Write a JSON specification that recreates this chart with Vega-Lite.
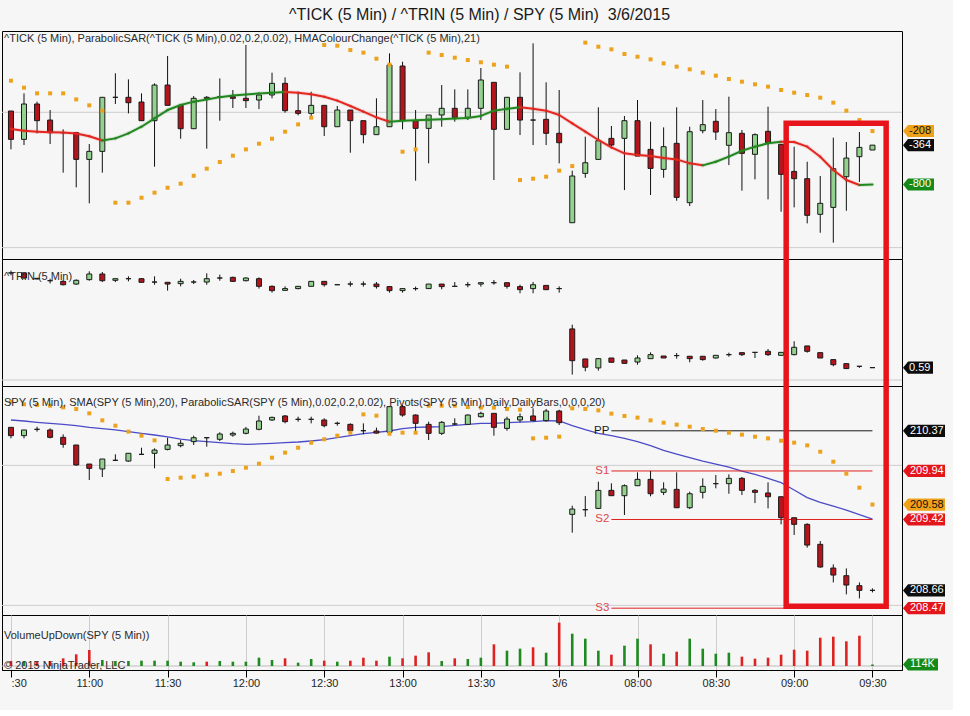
{
"$schema": "https://vega.github.io/schema/vega-lite/v6.json",
"background": "#f6f6f6",
"padding": {"left": 1, "top": 6, "right": 7, "bottom": 21},
"bounds": "flush",
"spacing": 0,
"title": {"text": "^TICK (5 Min) / ^TRIN (5 Min) / SPY (5 Min)\u00a0 3/6/2015", "anchor": "start", "frame": "group", "dx": 287, "fontSize": 16, "fontWeight": "normal", "font": "Liberation Sans", "color": "#1a1a1a", "offset": 8},
"config": {
  "view": {"stroke": "#000000", "strokeWidth": 1, "fill": "#f6f6f6"},
  "axis": {"labelFont": "Liberation Sans", "labelFontSize": 11, "labelColor": "#1e1e1e", "domainColor": "#000000", "tickColor": "#000000", "tickSize": 5, "labelPadding": 3, "gridColor": "#cdcdcd"},
  "text": {"font": "Liberation Sans"},
  "title": {"font": "Liberation Sans"}
},
"datasets": {
"tick": [
{"i":0,"o":14,"h":14,"l":-411,"c":-300,"sar":350,"hma":-185},
{"i":1,"o":-300,"h":210,"l":-363,"c":92,"sar":273,"hma":-205},
{"i":2,"o":92,"h":118,"l":-233,"c":-93,"sar":210,"hma":-215},
{"i":3,"o":-86,"h":25,"l":-352,"c":-226,"sar":210,"hma":-220},
{"i":4,"o":-226,"h":-189,"l":-669,"c":-226,"sar":210,"hma":-225},
{"i":5,"o":-226,"h":-226,"l":-832,"c":-522,"sar":143,"hma":-235},
{"i":6,"o":-522,"h":-352,"l":-1009,"c":-433,"sar":77,"hma":-265},
{"i":7,"o":-433,"h":166,"l":-669,"c":166,"sar":18,"hma":-312},
{"i":8,"o":166,"h":432,"l":92,"c":166,"sar":-1002,"hma":-289},
{"i":9,"o":166,"h":365,"l":-12,"c":106,"sar":-1002,"hma":-233},
{"i":10,"o":114,"h":210,"l":-93,"c":-93,"sar":-947,"hma":-160},
{"i":11,"o":-93,"h":321,"l":-603,"c":302,"sar":-891,"hma":-67},
{"i":12,"o":302,"h":624,"l":77,"c":77,"sar":-836,"hma":25},
{"i":13,"o":77,"h":77,"l":-293,"c":-182,"sar":-791,"hma":81},
{"i":14,"o":-182,"h":180,"l":-182,"c":155,"sar":-703,"hma":118},
{"i":15,"o":155,"h":180,"l":-403,"c":166,"sar":-625,"hma":143},
{"i":16,"o":166,"h":376,"l":-93,"c":173,"sar":-551,"hma":168},
{"i":17,"o":173,"h":247,"l":47,"c":155,"sar":-481,"hma":185},
{"i":18,"o":155,"h":746,"l":47,"c":129,"sar":-411,"hma":198},
{"i":19,"o":136,"h":192,"l":36,"c":192,"sar":-348,"hma":208},
{"i":20,"o":192,"h":439,"l":155,"c":321,"sar":-293,"hma":217},
{"i":21,"o":321,"h":387,"l":-4,"c":18,"sar":-215,"hma":225},
{"i":22,"o":18,"h":228,"l":-34,"c":-12,"sar":-134,"hma":217},
{"i":23,"o":-12,"h":228,"l":-41,"c":77,"sar":-60,"hma":199},
{"i":24,"o":77,"h":77,"l":-263,"c":-160,"sar":746,"hma":173},
{"i":25,"o":-160,"h":70,"l":-160,"c":25,"sar":738,"hma":129},
{"i":26,"o":25,"h":25,"l":-448,"c":-93,"sar":690,"hma":70},
{"i":27,"o":-93,"h":-93,"l":-344,"c":-248,"sar":661,"hma":7},
{"i":28,"o":-248,"h":155,"l":-248,"c":-160,"sar":594,"hma":-56},
{"i":29,"o":-160,"h":653,"l":-160,"c":524,"sar":528,"hma":-104},
{"i":30,"o":513,"h":561,"l":-189,"c":-93,"sar":-437,"hma":-95},
{"i":31,"o":-93,"h":25,"l":-758,"c":-178,"sar":-411,"hma":-88},
{"i":32,"o":-178,"h":-30,"l":-566,"c":-30,"sar":661,"hma":-82},
{"i":33,"o":-30,"h":302,"l":-160,"c":44,"sar":635,"hma":-76},
{"i":34,"o":44,"h":254,"l":-104,"c":-56,"sar":605,"hma":-70},
{"i":35,"o":-56,"h":254,"l":-86,"c":44,"sar":579,"hma":-62},
{"i":36,"o":44,"h":491,"l":-85,"c":358,"sar":554,"hma":-40},
{"i":37,"o":332,"h":332,"l":-751,"c":-189,"sar":528,"hma":18},
{"i":38,"o":-189,"h":166,"l":-189,"c":166,"sar":506,"hma":38},
{"i":39,"o":166,"h":443,"l":-252,"c":-86,"sar":-751,"hma":55},
{"i":40,"o":-86,"h":764,"l":-363,"c":-86,"sar":-736,"hma":40},
{"i":41,"o":-78,"h":332,"l":-363,"c":-233,"sar":-714,"hma":18},
{"i":42,"o":-233,"h":247,"l":-566,"c":-337,"sar":-647,"hma":-30},
{"i":43,"o":-1224,"h":-647,"l":-1224,"c":-706,"sar":-596,"hma":-123},
{"i":44,"o":-677,"h":-270,"l":-725,"c":-559,"sar":772,"hma":-215},
{"i":45,"o":-522,"h":55,"l":-522,"c":-315,"sar":727,"hma":-307},
{"i":46,"o":-289,"h":-152,"l":-400,"c":-363,"sar":698,"hma":-389},
{"i":47,"o":-289,"h":-41,"l":-862,"c":-93,"sar":646,"hma":-455},
{"i":48,"o":-93,"h":136,"l":-485,"c":-485,"sar":616,"hma":-474},
{"i":49,"o":-411,"h":-104,"l":-917,"c":-622,"sar":587,"hma":-485},
{"i":50,"o":-633,"h":-167,"l":-725,"c":-381,"sar":542,"hma":-507},
{"i":51,"o":-344,"h":55,"l":-980,"c":-943,"sar":506,"hma":-522},
{"i":52,"o":-1002,"h":-160,"l":-1039,"c":-215,"sar":476,"hma":-566},
{"i":53,"o":-204,"h":136,"l":-233,"c":-137,"sar":439,"hma":-588},
{"i":54,"o":-100,"h":36,"l":-307,"c":-219,"sar":406,"hma":-548},
{"i":55,"o":-366,"h":173,"l":-585,"c":-226,"sar":369,"hma":-492},
{"i":56,"o":-233,"h":-196,"l":-869,"c":-455,"sar":339,"hma":-426},
{"i":57,"o":-466,"h":-233,"l":-743,"c":-248,"sar":310,"hma":-381},
{"i":58,"o":-211,"h":62,"l":-965,"c":-337,"sar":284,"hma":-344},
{"i":59,"o":-355,"h":-355,"l":-1102,"c":-688,"sar":247,"hma":-326},
{"i":60,"o":-655,"h":-381,"l":-1054,"c":-736,"sar":217,"hma":-330},
{"i":61,"o":-736,"h":-548,"l":-1231,"c":-1142,"sar":191,"hma":-381},
{"i":62,"o":-1131,"h":-706,"l":-1335,"c":-1009,"sar":162,"hma":-492},
{"i":63,"o":-1054,"h":-281,"l":-1445,"c":-625,"sar":107,"hma":-640},
{"i":64,"o":-714,"h":-329,"l":-1091,"c":-507,"sar":18,"hma":-751},
{"i":65,"o":-492,"h":-219,"l":-773,"c":-389,"sar":-86,"hma":-806},
{"i":66,"o":-418,"h":-364,"l":-418,"c":-364,"sar":-208,"hma":-800}
],
"trin": [
{"i":0,"o":1.299,"h":1.316,"l":1.281,"c":1.299},
{"i":1,"o":1.299,"h":1.306,"l":1.256,"c":1.261},
{"i":2,"o":1.259,"h":1.261,"l":1.251,"c":1.254},
{"i":3,"o":1.241,"h":1.256,"l":1.221,"c":1.241},
{"i":4,"o":1.236,"h":1.246,"l":1.206,"c":1.211},
{"i":5,"o":1.216,"h":1.251,"l":1.211,"c":1.244},
{"i":6,"o":1.249,"h":1.311,"l":1.241,"c":1.291},
{"i":7,"o":1.291,"h":1.306,"l":1.231,"c":1.241},
{"i":8,"o":1.244,"h":1.256,"l":1.231,"c":1.256},
{"i":9,"o":1.256,"h":1.274,"l":1.236,"c":1.256},
{"i":10,"o":1.256,"h":1.259,"l":1.226,"c":1.229},
{"i":11,"o":1.231,"h":1.274,"l":1.211,"c":1.231},
{"i":12,"o":1.229,"h":1.229,"l":1.167,"c":1.216},
{"i":13,"o":1.219,"h":1.256,"l":1.199,"c":1.236},
{"i":14,"o":1.231,"h":1.246,"l":1.216,"c":1.231},
{"i":15,"o":1.231,"h":1.296,"l":1.211,"c":1.256},
{"i":16,"o":1.261,"h":1.286,"l":1.241,"c":1.261},
{"i":17,"o":1.266,"h":1.271,"l":1.231,"c":1.236},
{"i":18,"o":1.241,"h":1.266,"l":1.236,"c":1.261},
{"i":19,"o":1.256,"h":1.266,"l":1.182,"c":1.199},
{"i":20,"o":1.199,"h":1.206,"l":1.152,"c":1.167},
{"i":21,"o":1.169,"h":1.199,"l":1.169,"c":1.182},
{"i":22,"o":1.182,"h":1.199,"l":1.177,"c":1.199},
{"i":23,"o":1.199,"h":1.236,"l":1.199,"c":1.236},
{"i":24,"o":1.236,"h":1.236,"l":1.197,"c":1.211},
{"i":25,"o":1.211,"h":1.211,"l":1.211,"c":1.211},
{"i":26,"o":1.216,"h":1.236,"l":1.197,"c":1.216},
{"i":27,"o":1.216,"h":1.236,"l":1.197,"c":1.216},
{"i":28,"o":1.216,"h":1.231,"l":1.182,"c":1.197},
{"i":29,"o":1.197,"h":1.197,"l":1.152,"c":1.167},
{"i":30,"o":1.167,"h":1.182,"l":1.152,"c":1.182},
{"i":31,"o":1.182,"h":1.197,"l":1.167,"c":1.182},
{"i":32,"o":1.182,"h":1.216,"l":1.182,"c":1.216},
{"i":33,"o":1.216,"h":1.216,"l":1.177,"c":1.197},
{"i":34,"o":1.199,"h":1.231,"l":1.199,"c":1.199},
{"i":35,"o":1.211,"h":1.231,"l":1.192,"c":1.211},
{"i":36,"o":1.216,"h":1.231,"l":1.197,"c":1.226},
{"i":37,"o":1.226,"h":1.246,"l":1.211,"c":1.226},
{"i":38,"o":1.226,"h":1.226,"l":1.182,"c":1.199},
{"i":39,"o":1.197,"h":1.211,"l":1.147,"c":1.174},
{"i":40,"o":1.182,"h":1.231,"l":1.147,"c":1.211},
{"i":41,"o":1.206,"h":1.206,"l":1.174,"c":1.174},
{"i":42,"o":1.182,"h":1.199,"l":1.152,"c":1.182},
{"i":43,"o":0.881,"h":0.913,"l":0.540,"c":0.644},
{"i":44,"o":0.657,"h":0.657,"l":0.565,"c":0.595},
{"i":45,"o":0.590,"h":0.664,"l":0.570,"c":0.659},
{"i":46,"o":0.664,"h":0.664,"l":0.632,"c":0.632},
{"i":47,"o":0.649,"h":0.649,"l":0.624,"c":0.624},
{"i":48,"o":0.634,"h":0.684,"l":0.614,"c":0.664},
{"i":49,"o":0.659,"h":0.706,"l":0.659,"c":0.689},
{"i":50,"o":0.679,"h":0.679,"l":0.664,"c":0.664},
{"i":51,"o":0.682,"h":0.701,"l":0.659,"c":0.682},
{"i":52,"o":0.677,"h":0.677,"l":0.632,"c":0.659},
{"i":53,"o":0.677,"h":0.677,"l":0.644,"c":0.652},
{"i":54,"o":0.664,"h":0.684,"l":0.659,"c":0.684},
{"i":55,"o":0.689,"h":0.704,"l":0.674,"c":0.689},
{"i":56,"o":0.704,"h":0.704,"l":0.679,"c":0.689},
{"i":57,"o":0.706,"h":0.706,"l":0.664,"c":0.706},
{"i":58,"o":0.714,"h":0.731,"l":0.679,"c":0.689},
{"i":59,"o":0.684,"h":0.706,"l":0.684,"c":0.706},
{"i":60,"o":0.689,"h":0.789,"l":0.684,"c":0.744},
{"i":61,"o":0.754,"h":0.754,"l":0.704,"c":0.714},
{"i":62,"o":0.704,"h":0.704,"l":0.664,"c":0.664},
{"i":63,"o":0.652,"h":0.652,"l":0.602,"c":0.614},
{"i":64,"o":0.622,"h":0.622,"l":0.585,"c":0.585},
{"i":65,"o":0.602,"h":0.602,"l":0.590,"c":0.602},
{"i":66,"o":0.592,"h":0.592,"l":0.592,"c":0.592}
],
"spy": [
{"i":0,"o":210.407,"h":210.407,"l":210.289,"c":210.318,"sar":210.682,"sma":210.486},
{"i":1,"o":210.318,"h":210.379,"l":210.289,"c":210.379,"sar":210.654,"sma":210.475},
{"i":2,"o":210.386,"h":210.414,"l":210.361,"c":210.386,"sar":210.646,"sma":210.461},
{"i":3,"o":210.379,"h":210.396,"l":210.289,"c":210.300,"sar":210.639,"sma":210.45},
{"i":4,"o":210.300,"h":210.332,"l":210.189,"c":210.225,"sar":210.621,"sma":210.439},
{"i":5,"o":210.218,"h":210.218,"l":209.996,"c":210.004,"sar":210.604,"sma":210.425},
{"i":6,"o":210.014,"h":210.014,"l":209.843,"c":209.968,"sar":210.557,"sma":210.407},
{"i":7,"o":209.961,"h":210.068,"l":209.875,"c":210.068,"sar":210.482,"sma":210.393},
{"i":8,"o":210.054,"h":210.118,"l":210.046,"c":210.054,"sar":210.425,"sma":210.379},
{"i":9,"o":210.046,"h":210.129,"l":210.039,"c":210.129,"sar":210.361,"sma":210.361},
{"i":10,"o":210.118,"h":210.189,"l":210.111,"c":210.118,"sar":210.318,"sma":210.343},
{"i":11,"o":210.129,"h":210.182,"l":209.968,"c":210.164,"sar":210.268,"sma":210.325},
{"i":12,"o":210.171,"h":210.296,"l":210.161,"c":210.218,"sar":209.854,"sma":210.304},
{"i":13,"o":210.211,"h":210.271,"l":210.193,"c":210.236,"sar":209.868,"sma":210.282},
{"i":14,"o":210.254,"h":210.318,"l":210.218,"c":210.296,"sar":209.879,"sma":210.264},
{"i":15,"o":210.296,"h":210.296,"l":210.2,"c":210.296,"sar":209.9,"sma":210.254},
{"i":16,"o":210.279,"h":210.354,"l":210.261,"c":210.336,"sar":209.911,"sma":210.243},
{"i":17,"o":210.325,"h":210.361,"l":210.307,"c":210.343,"sar":209.939,"sma":210.232},
{"i":18,"o":210.343,"h":210.411,"l":210.332,"c":210.389,"sar":209.975,"sma":210.225},
{"i":19,"o":210.386,"h":210.532,"l":210.375,"c":210.475,"sar":210.018,"sma":210.229},
{"i":20,"o":210.486,"h":210.521,"l":210.475,"c":210.514,"sar":210.082,"sma":210.236},
{"i":21,"o":210.529,"h":210.539,"l":210.45,"c":210.468,"sar":210.136,"sma":210.243},
{"i":22,"o":210.493,"h":210.521,"l":210.468,"c":210.493,"sar":210.189,"sma":210.25},
{"i":23,"o":210.493,"h":210.521,"l":210.45,"c":210.493,"sar":210.243,"sma":210.261},
{"i":24,"o":210.486,"h":210.504,"l":210.407,"c":210.425,"sar":210.279,"sma":210.275},
{"i":25,"o":210.45,"h":210.468,"l":210.425,"c":210.45,"sar":210.318,"sma":210.296},
{"i":26,"o":210.439,"h":210.45,"l":210.361,"c":210.371,"sar":210.35,"sma":210.318},
{"i":27,"o":210.371,"h":210.45,"l":210.332,"c":210.371,"sar":210.546,"sma":210.339},
{"i":28,"o":210.368,"h":210.404,"l":210.339,"c":210.346,"sar":210.532,"sma":210.354},
{"i":29,"o":210.354,"h":210.629,"l":210.343,"c":210.629,"sar":210.339,"sma":210.368},
{"i":30,"o":210.629,"h":210.646,"l":210.521,"c":210.539,"sar":210.35,"sma":210.393},
{"i":31,"o":210.539,"h":210.546,"l":210.361,"c":210.45,"sar":210.35,"sma":210.407},
{"i":32,"o":210.439,"h":210.468,"l":210.271,"c":210.343,"sar":210.639,"sma":210.411},
{"i":33,"o":210.343,"h":210.475,"l":210.325,"c":210.461,"sar":210.639,"sma":210.414},
{"i":34,"o":210.443,"h":210.504,"l":210.432,"c":210.443,"sar":210.639,"sma":210.429},
{"i":35,"o":210.439,"h":210.546,"l":210.432,"c":210.539,"sar":210.625,"sma":210.439},
{"i":36,"o":210.521,"h":210.575,"l":210.511,"c":210.557,"sar":210.618,"sma":210.45},
{"i":37,"o":210.557,"h":210.557,"l":210.318,"c":210.407,"sar":210.618,"sma":210.45},
{"i":38,"o":210.396,"h":210.521,"l":210.371,"c":210.496,"sar":210.604,"sma":210.457},
{"i":39,"o":210.486,"h":210.557,"l":210.461,"c":210.521,"sar":210.596,"sma":210.464},
{"i":40,"o":210.529,"h":210.611,"l":210.475,"c":210.479,"sar":210.289,"sma":210.468},
{"i":41,"o":210.479,"h":210.604,"l":210.468,"c":210.582,"sar":210.296,"sma":210.479},
{"i":42,"o":210.582,"h":210.596,"l":210.432,"c":210.457,"sar":210.307,"sma":210.475},
{"i":43,"o":209.475,"h":209.568,"l":209.279,"c":209.532,"sar":210.611,"sma":210.425},
{"i":44,"o":209.525,"h":209.671,"l":209.45,"c":209.525,"sar":210.604,"sma":210.382},
{"i":45,"o":209.539,"h":209.825,"l":209.532,"c":209.732,"sar":210.589,"sma":210.343},
{"i":46,"o":209.732,"h":209.807,"l":209.675,"c":209.675,"sar":210.554,"sma":210.318},
{"i":47,"o":209.675,"h":209.796,"l":209.468,"c":209.782,"sar":210.529,"sma":210.289},
{"i":48,"o":209.782,"h":209.925,"l":209.782,"c":209.85,"sar":210.511,"sma":210.254},
{"i":49,"o":209.85,"h":209.939,"l":209.668,"c":209.696,"sar":210.482,"sma":210.211},
{"i":50,"o":209.711,"h":209.818,"l":209.682,"c":209.746,"sar":210.457,"sma":210.161},
{"i":51,"o":209.743,"h":209.925,"l":209.546,"c":209.546,"sar":210.436,"sma":210.121},
{"i":52,"o":209.546,"h":209.718,"l":209.532,"c":209.696,"sar":210.414,"sma":210.082},
{"i":53,"o":209.711,"h":209.861,"l":209.646,"c":209.775,"sar":210.389,"sma":210.046},
{"i":54,"o":209.804,"h":209.896,"l":209.754,"c":209.804,"sar":210.371,"sma":210.014},
{"i":55,"o":209.804,"h":209.904,"l":209.696,"c":209.861,"sar":210.35,"sma":209.982},
{"i":56,"o":209.861,"h":209.875,"l":209.682,"c":209.732,"sar":210.329,"sma":209.939},
{"i":57,"o":209.732,"h":209.746,"l":209.596,"c":209.711,"sar":210.307,"sma":209.904},
{"i":58,"o":209.704,"h":209.818,"l":209.539,"c":209.664,"sar":210.289,"sma":209.861},
{"i":59,"o":209.664,"h":209.664,"l":209.368,"c":209.439,"sar":210.264,"sma":209.814},
{"i":60,"o":209.439,"h":209.439,"l":209.254,"c":209.368,"sar":210.243,"sma":209.736},
{"i":61,"o":209.368,"h":209.379,"l":209.118,"c":209.146,"sar":210.214,"sma":209.654},
{"i":62,"o":209.154,"h":209.189,"l":208.904,"c":208.911,"sar":210.146,"sma":209.604},
{"i":63,"o":208.9,"h":208.939,"l":208.746,"c":208.825,"sar":210.039,"sma":209.564},
{"i":64,"o":208.818,"h":208.896,"l":208.618,"c":208.718,"sar":209.911,"sma":209.521},
{"i":65,"o":208.711,"h":208.746,"l":208.575,"c":208.661,"sar":209.761,"sma":209.471},
{"i":66,"o":208.661,"h":208.682,"l":208.639,"c":208.661,"sar":209.58,"sma":209.425}
],
"vol": [
{"i":0,"v":375,"d":"dn"},{"i":1,"v":325,"d":"up"},{"i":2,"v":325,"d":"dn"},{"i":3,"v":375,"d":"dn"},{"i":4,"v":575,"d":"dn"},
{"i":5,"v":875,"d":"dn"},{"i":6,"v":1200,"d":"dn"},{"i":7,"v":450,"d":"up"},{"i":8,"v":375,"d":"up"},{"i":9,"v":375,"d":"up"},
{"i":10,"v":400,"d":"up"},{"i":11,"v":400,"d":"up"},{"i":12,"v":400,"d":"up"},{"i":13,"v":325,"d":"up"},{"i":14,"v":275,"d":"up"},
{"i":15,"v":325,"d":"dn"},{"i":16,"v":375,"d":"up"},{"i":17,"v":325,"d":"up"},{"i":18,"v":325,"d":"up"},{"i":19,"v":625,"d":"up"},
{"i":20,"v":450,"d":"up"},{"i":21,"v":575,"d":"dn"},{"i":22,"v":250,"d":"up"},{"i":23,"v":525,"d":"up"},{"i":24,"v":400,"d":"dn"},
{"i":25,"v":325,"d":"up"},{"i":26,"v":400,"d":"dn"},{"i":27,"v":625,"d":"dn"},{"i":28,"v":400,"d":"dn"},{"i":29,"v":700,"d":"up"},
{"i":30,"v":575,"d":"dn"},{"i":31,"v":775,"d":"dn"},{"i":32,"v":1025,"d":"dn"},{"i":33,"v":375,"d":"up"},{"i":34,"v":575,"d":"dn"},
{"i":35,"v":525,"d":"up"},{"i":36,"v":625,"d":"up"},{"i":37,"v":1625,"d":"dn"},{"i":38,"v":1150,"d":"up"},{"i":39,"v":1300,"d":"up"},
{"i":40,"v":1400,"d":"dn"},{"i":41,"v":1000,"d":"up"},{"i":42,"v":3250,"d":"dn"},{"i":43,"v":2425,"d":"up"},{"i":44,"v":2050,"d":"up"},
{"i":45,"v":1150,"d":"up"},{"i":46,"v":850,"d":"dn"},{"i":47,"v":1525,"d":"up"},{"i":48,"v":2050,"d":"up"},{"i":49,"v":1625,"d":"dn"},
{"i":50,"v":925,"d":"up"},{"i":51,"v":1075,"d":"dn"},{"i":52,"v":2050,"d":"up"},{"i":53,"v":1300,"d":"up"},{"i":54,"v":925,"d":"up"},
{"i":55,"v":1000,"d":"up"},{"i":56,"v":700,"d":"dn"},{"i":57,"v":550,"d":"dn"},{"i":58,"v":625,"d":"dn"},{"i":59,"v":850,"d":"dn"},
{"i":60,"v":1225,"d":"dn"},{"i":61,"v":1150,"d":"dn"},{"i":62,"v":2125,"d":"dn"},{"i":63,"v":2200,"d":"dn"},{"i":64,"v":1850,"d":"dn"},
{"i":65,"v":2275,"d":"dn"},{"i":66,"v":114,"d":"up"}
],
"pivots": [
{"name":"PP","v":210.37},{"name":"S1","v":209.94},{"name":"S2","v":209.42},{"name":"S3","v":208.47}
],
"tagsT": [
{"v":-208,"label":"-208","kind":"sar"},{"v":-364,"label":"-364","kind":"last"},{"v":-800,"label":"-800","kind":"hma"}
],
"tagsR": [
{"v":0.592,"label":"0.59","kind":"last"}
],
"tagsS": [
{"v":210.37,"label":"210.37","kind":"pivot"},{"v":209.94,"label":"209.94","kind":"support"},{"v":209.58,"label":"209.58","kind":"sar"},
{"v":209.42,"label":"209.42","kind":"support"},{"v":208.66,"label":"208.66","kind":"last"},{"v":208.47,"label":"208.47","kind":"support"}
],
"tagsV": [
{"v":114,"label":"114K","kind":"hma"}
]
},
"vconcat": [
{
"width": 900, "height": 228,
"title": {"text": "^TICK (5 Min), ParabolicSAR(^TICK (5 Min),0.02,0.2,0.02), HMAColourChange(^TICK (5 Min),21)", "anchor": "start", "frame": "group", "offset": -13, "dx": 2, "fontSize": 11, "fontWeight": "normal", "color": "#2a2a2a"},
"layer": [
{"data": {"values": [{"g": 0}, {"g": -1500}]}, "mark": {"type": "rule", "color": "#cdcdcd", "strokeWidth": 1},
 "encoding": {"y": {"field": "g", "type": "quantitative", "scale": {"domain": [-1626, 901], "nice": false, "zero": false}, "axis": {"orient": "right", "values": [500, 0, -500, -1000, -1500], "format": "d", "title": null, "grid": false, "minExtent": 62, "maxExtent": 62}}}},
{"data": {"name": "tick"}, "mark": {"type": "rule", "color": "#111111", "strokeWidth": 1},
 "encoding": {"x": {"field": "i", "type": "quantitative", "scale": {"domain": [-0.303, 67.88], "nice": false, "zero": false}, "axis": {"values": [0,6,12,18,24,30,36,42,48,54,60,66], "grid": true, "labels": false, "ticks": false, "domain": false, "title": null}},
  "y": {"field": "l", "type": "quantitative", "scale": {"domain": [-1626, 901], "nice": false, "zero": false}, "axis": null}, "y2": {"field": "h"}}},
{"data": {"name": "tick"}, "mark": {"type": "bar", "width": 5, "stroke": "#1a1a1a", "strokeWidth": 1},
 "encoding": {"x": {"field": "i", "type": "quantitative", "scale": {"domain": [-0.303, 67.88], "nice": false, "zero": false}, "axis": null},
  "y": {"field": "o", "type": "quantitative", "scale": {"domain": [-1626, 901], "nice": false, "zero": false}, "axis": null}, "y2": {"field": "c"},
  "fill": {"condition": {"test": "datum.c >= datum.o", "value": "#93d18f"}, "value": "#b5141c"}}},
{"data": {"name": "tick"}, "mark": {"type": "square", "size": 16, "color": "#eda21e", "opacity": 1},
 "encoding": {"x": {"field": "i", "type": "quantitative", "scale": {"domain": [-0.303, 67.88], "nice": false, "zero": false}, "axis": null},
  "y": {"field": "sar", "type": "quantitative", "scale": {"domain": [-1626, 901], "nice": false, "zero": false}, "axis": null}}},
{"data": {"name": "tick"},
 "transform": [{"window": [{"op": "lead", "field": "hma", "as": "hn"}, {"op": "lead", "field": "i", "as": "inext"}], "sort": [{"field": "i", "order": "ascending"}]}, {"filter": "isValid(datum.hn)"}],
 "mark": {"type": "rule", "strokeWidth": 4, "opacity": 0.13, "strokeCap": "round"},
 "encoding": {"x": {"field": "i", "type": "quantitative", "scale": {"domain": [-0.303, 67.88], "nice": false, "zero": false}, "axis": null}, "x2": {"field": "inext"},
  "y": {"field": "hma", "type": "quantitative", "scale": {"domain": [-1626, 901], "nice": false, "zero": false}, "axis": null}, "y2": {"field": "hn"},
  "color": {"condition": {"test": "datum.hn < datum.hma", "value": "#e3261f"}, "value": "#22871f"}}},
{"data": {"name": "tick"},
 "transform": [{"window": [{"op": "lead", "field": "hma", "as": "hn"}, {"op": "lead", "field": "i", "as": "inext"}], "sort": [{"field": "i", "order": "ascending"}]}, {"filter": "isValid(datum.hn)"}],
 "mark": {"type": "rule", "strokeWidth": 2, "strokeCap": "round"},
 "encoding": {"x": {"field": "i", "type": "quantitative", "scale": {"domain": [-0.303, 67.88], "nice": false, "zero": false}, "axis": null}, "x2": {"field": "inext"},
  "y": {"field": "hma", "type": "quantitative", "scale": {"domain": [-1626, 901], "nice": false, "zero": false}, "axis": null}, "y2": {"field": "hn"},
  "color": {"condition": {"test": "datum.hn < datum.hma", "value": "#e3261f"}, "value": "#22871f"}}},
{"data": {"values": [{}]}, "mark": {"type": "rect", "filled": false, "color": "#e8141c", "strokeWidth": 5.5, "clip": true},
 "encoding": {"x": {"datum": 59.39, "type": "quantitative", "scale": {"domain": [-0.303, 67.88], "nice": false, "zero": false}, "axis": null}, "x2": {"datum": 67.05},
  "y": {"datum": -122, "type": "quantitative", "scale": {"domain": [-1626, 901], "nice": false, "zero": false}, "axis": null}, "y2": {"datum": -1900}}},
{"data": {"name": "tagsT"}, "mark": {"type": "point", "shape": "M-1,0L-0.68,-0.39L1,-0.39L1,0.39L-0.68,0.39Z", "size": 961, "filled": true, "opacity": 1, "strokeWidth": 0, "x": "width", "xOffset": 16.5},
 "encoding": {"y": {"field": "v", "type": "quantitative", "scale": {"domain": [-1626, 901], "nice": false, "zero": false}, "axis": null},
  "fill": {"field": "kind", "type": "nominal", "scale": {"domain": ["last","sar","hma","pivot","support"], "range": ["#0d0d0d","#f0a11a","#168a16","#0d0d0d","#e3161b"]}, "legend": null}}},
{"data": {"name": "tagsT"}, "mark": {"type": "text", "x": "width", "dx": 7, "align": "left", "baseline": "middle", "fontSize": 11},
 "encoding": {"y": {"field": "v", "type": "quantitative", "scale": {"domain": [-1626, 901], "nice": false, "zero": false}, "axis": null},
  "text": {"field": "label"}, "color": {"condition": {"test": "datum.kind === 'sar'", "value": "#111111"}, "value": "#ffffff"}}}
]
},
{
"width": 900, "height": 127,
"title": {"text": "^TRIN (5 Min)", "anchor": "start", "frame": "group", "offset": -23, "dx": 2, "fontSize": 11, "fontWeight": "normal", "color": "#2a2a2a"},
"layer": [
{"data": {"values": [{"g": 0.5}]}, "mark": {"type": "rule", "color": "#cdcdcd", "strokeWidth": 1},
 "encoding": {"y": {"field": "g", "type": "quantitative", "scale": {"domain": [0.455, 1.403], "nice": false, "zero": false}, "axis": {"orient": "right", "values": [1.0, 0.5], "format": ".2f", "title": null, "grid": false, "minExtent": 62, "maxExtent": 62}}}},
{"data": {"name": "trin"}, "mark": {"type": "rule", "color": "#111111", "strokeWidth": 1},
 "encoding": {"x": {"field": "i", "type": "quantitative", "scale": {"domain": [-0.303, 67.88], "nice": false, "zero": false}, "axis": {"values": [0,6,12,18,24,30,36,42,48,54,60,66], "grid": true, "labels": false, "ticks": false, "domain": false, "title": null}},
  "y": {"field": "l", "type": "quantitative", "scale": {"domain": [0.455, 1.403], "nice": false, "zero": false}, "axis": null}, "y2": {"field": "h"}}},
{"data": {"name": "trin"}, "mark": {"type": "bar", "width": 5, "stroke": "#1a1a1a", "strokeWidth": 1},
 "encoding": {"x": {"field": "i", "type": "quantitative", "scale": {"domain": [-0.303, 67.88], "nice": false, "zero": false}, "axis": null},
  "y": {"field": "o", "type": "quantitative", "scale": {"domain": [0.455, 1.403], "nice": false, "zero": false}, "axis": null}, "y2": {"field": "c"},
  "fill": {"condition": {"test": "datum.c >= datum.o", "value": "#93d18f"}, "value": "#b5141c"}}},
{"data": {"values": [{}]}, "mark": {"type": "rect", "filled": false, "color": "#e8141c", "strokeWidth": 5.5, "clip": true},
 "encoding": {"x": {"datum": 59.39, "type": "quantitative", "scale": {"domain": [-0.303, 67.88], "nice": false, "zero": false}, "axis": null}, "x2": {"datum": 67.05},
  "y": {"datum": 1.8, "type": "quantitative", "scale": {"domain": [0.455, 1.403], "nice": false, "zero": false}, "axis": null}, "y2": {"datum": 0.1}}},
{"data": {"name": "tagsR"}, "mark": {"type": "point", "shape": "M-1,0L-0.66,-0.41L1,-0.41L1,0.41L-0.66,0.41Z", "size": 900, "filled": true, "opacity": 1, "strokeWidth": 0, "x": "width", "xOffset": 16},
 "encoding": {"y": {"field": "v", "type": "quantitative", "scale": {"domain": [0.455, 1.403], "nice": false, "zero": false}, "axis": null},
  "fill": {"field": "kind", "type": "nominal", "scale": {"domain": ["last","sar","hma","pivot","support"], "range": ["#0d0d0d","#f0a11a","#168a16","#0d0d0d","#e3161b"]}, "legend": null}}},
{"data": {"name": "tagsR"}, "mark": {"type": "text", "x": "width", "dx": 7, "align": "left", "baseline": "middle", "fontSize": 11},
 "encoding": {"y": {"field": "v", "type": "quantitative", "scale": {"domain": [0.455, 1.403], "nice": false, "zero": false}, "axis": null},
  "text": {"field": "label"}, "color": {"value": "#ffffff"}}}
]
},
{
"width": 900, "height": 229,
"title": {"text": "SPY (5 Min), SMA(SPY (5 Min),20), ParabolicSAR(SPY (5 Min),0.02,0.2,0.02), Pivots(SPY (5 Min),Daily,DailyBars,0,0,0,20)", "anchor": "start", "frame": "group", "offset": -22, "dx": 2, "fontSize": 11, "fontWeight": "normal", "color": "#2a2a2a"},
"layer": [
{"data": {"values": [{"g": 210.0}, {"g": 208.5}]}, "mark": {"type": "rule", "color": "#cdcdcd", "strokeWidth": 1},
 "encoding": {"y": {"field": "g", "type": "quantitative", "scale": {"domain": [208.397, 210.85], "nice": false, "zero": false}, "axis": {"orient": "right", "values": [210.5, 210.0, 209.5, 209.0], "format": ".2f", "title": null, "grid": false, "minExtent": 62, "maxExtent": 62}}}},
{"data": {"name": "spy"}, "mark": {"type": "line", "color": "#4b4bc8", "strokeWidth": 1.3},
 "encoding": {"x": {"field": "i", "type": "quantitative", "scale": {"domain": [-0.303, 67.88], "nice": false, "zero": false}, "axis": {"values": [0,6,12,18,24,30,36,42,48,54,60,66], "grid": true, "labels": false, "ticks": false, "domain": false, "title": null}},
  "y": {"field": "sma", "type": "quantitative", "scale": {"domain": [208.397, 210.85], "nice": false, "zero": false}, "axis": null}}},
{"data": {"name": "pivots"}, "mark": {"type": "rule", "strokeWidth": 1},
 "encoding": {"x": {"datum": 46, "type": "quantitative", "scale": {"domain": [-0.303, 67.88], "nice": false, "zero": false}, "axis": null}, "x2": {"datum": 66},
  "y": {"field": "v", "type": "quantitative", "scale": {"domain": [208.397, 210.85], "nice": false, "zero": false}, "axis": null},
  "color": {"condition": {"test": "datum.name === 'PP'", "value": "#1a1a1a"}, "value": "#e02020"}}},
{"data": {"name": "pivots"}, "mark": {"type": "text", "align": "right", "baseline": "middle", "dx": -2, "fontSize": 11.5},
 "encoding": {"x": {"datum": 46, "type": "quantitative", "scale": {"domain": [-0.303, 67.88], "nice": false, "zero": false}, "axis": null},
  "y": {"field": "v", "type": "quantitative", "scale": {"domain": [208.397, 210.85], "nice": false, "zero": false}, "axis": null},
  "text": {"field": "name"},
  "color": {"condition": {"test": "datum.name === 'PP'", "value": "#1a1a1a"}, "value": "#e04848"}}},
{"data": {"name": "spy"}, "mark": {"type": "rule", "color": "#111111", "strokeWidth": 1},
 "encoding": {"x": {"field": "i", "type": "quantitative", "scale": {"domain": [-0.303, 67.88], "nice": false, "zero": false}, "axis": null},
  "y": {"field": "l", "type": "quantitative", "scale": {"domain": [208.397, 210.85], "nice": false, "zero": false}, "axis": null}, "y2": {"field": "h"}}},
{"data": {"name": "spy"}, "mark": {"type": "bar", "width": 5, "stroke": "#1a1a1a", "strokeWidth": 1},
 "encoding": {"x": {"field": "i", "type": "quantitative", "scale": {"domain": [-0.303, 67.88], "nice": false, "zero": false}, "axis": null},
  "y": {"field": "o", "type": "quantitative", "scale": {"domain": [208.397, 210.85], "nice": false, "zero": false}, "axis": null}, "y2": {"field": "c"},
  "fill": {"condition": {"test": "datum.c >= datum.o", "value": "#93d18f"}, "value": "#b5141c"}}},
{"data": {"name": "spy"}, "mark": {"type": "square", "size": 16, "color": "#eda21e", "opacity": 1},
 "encoding": {"x": {"field": "i", "type": "quantitative", "scale": {"domain": [-0.303, 67.88], "nice": false, "zero": false}, "axis": null},
  "y": {"field": "sar", "type": "quantitative", "scale": {"domain": [208.397, 210.85], "nice": false, "zero": false}, "axis": null}}},
{"data": {"values": [{}]}, "mark": {"type": "rect", "filled": false, "color": "#e8141c", "strokeWidth": 5.5, "clip": true},
 "encoding": {"x": {"datum": 59.39, "type": "quantitative", "scale": {"domain": [-0.303, 67.88], "nice": false, "zero": false}, "axis": null}, "x2": {"datum": 67.05},
  "y": {"datum": 211.5, "type": "quantitative", "scale": {"domain": [208.397, 210.85], "nice": false, "zero": false}, "axis": null}, "y2": {"datum": 208.49}}},
{"data": {"name": "tagsS"}, "mark": {"type": "point", "shape": "M-1,0L-0.76,-0.29L1,-0.29L1,0.29L-0.76,0.29Z", "size": 1764, "filled": true, "opacity": 1, "strokeWidth": 0, "x": "width", "xOffset": 22},
 "encoding": {"y": {"field": "v", "type": "quantitative", "scale": {"domain": [208.397, 210.85], "nice": false, "zero": false}, "axis": null},
  "fill": {"field": "kind", "type": "nominal", "scale": {"domain": ["last","sar","hma","pivot","support"], "range": ["#0d0d0d","#f0a11a","#168a16","#0d0d0d","#e3161b"]}, "legend": null}}},
{"data": {"name": "tagsS"}, "mark": {"type": "text", "x": "width", "dx": 8, "align": "left", "baseline": "middle", "fontSize": 11},
 "encoding": {"y": {"field": "v", "type": "quantitative", "scale": {"domain": [208.397, 210.85], "nice": false, "zero": false}, "axis": null},
  "text": {"field": "label"}, "color": {"condition": {"test": "datum.kind === 'sar'", "value": "#111111"}, "value": "#ffffff"}}}
]
},
{
"width": 900, "height": 55,
"title": {"text": "VolumeUpDown(SPY (5 Min))", "subtitle": "\u00a9 2015 NinjaTrader, LLC", "anchor": "start", "frame": "group", "offset": -56, "dx": 2, "fontSize": 11, "subtitleFontSize": 11, "subtitlePadding": 19, "fontWeight": "normal", "color": "#2a2a2a", "subtitleColor": "#2a2a2a", "subtitleFont": "Liberation Sans"},
"layer": [
{"data": {"values": [{"g": 0}]}, "mark": {"type": "rule", "color": "#bdbdbd", "strokeWidth": 1},
 "encoding": {"y": {"field": "g", "type": "quantitative", "scale": {"domain": [-300, 3825], "nice": false, "zero": false}, "axis": {"orient": "right", "values": [], "title": null, "grid": false, "minExtent": 62, "maxExtent": 62}}}},
{"data": {"name": "vol"}, "mark": {"type": "bar", "width": 2.6},
 "encoding": {"x": {"field": "i", "type": "quantitative", "scale": {"domain": [-0.303, 67.88], "nice": false, "zero": false},
   "axis": {"values": [0,6,12,18,24,30,36,42,48,54,60,66], "grid": true, "ticks": true, "tickSize": 7, "labelPadding": 0, "title": null, "labelOverlap": false, "labelFlush": false, "labelBound": false,
    "labelExpr": "[':30','11:00','11:30','12:00','12:30','13:00','13:30','3/6','08:00','08:30','09:00','09:30'][round(datum.value/6)]",
    "labelAlign": {"condition": {"test": "datum.value == 0", "value": "left"}, "value": "center"}}},
  "y": {"field": "v", "type": "quantitative", "scale": {"domain": [-300, 3825], "nice": false, "zero": false}, "axis": null}, "y2": {"datum": 0},
  "color": {"condition": {"test": "datum.d === 'up'", "value": "#1f8a1f"}, "value": "#dd2222"}}},
{"data": {"name": "tagsV"}, "mark": {"type": "point", "shape": "M-1,0L-0.71,-0.34L1,-0.34L1,0.34L-0.71,0.34Z", "size": 1225, "filled": true, "opacity": 1, "strokeWidth": 0, "x": "width", "xOffset": 18.5},
 "encoding": {"y": {"field": "v", "type": "quantitative", "scale": {"domain": [-300, 3825], "nice": false, "zero": false}, "axis": null},
  "fill": {"field": "kind", "type": "nominal", "scale": {"domain": ["last","sar","hma","pivot","support"], "range": ["#0d0d0d","#f0a11a","#168a16","#0d0d0d","#e3161b"]}, "legend": null}}},
{"data": {"name": "tagsV"}, "mark": {"type": "text", "x": "width", "dx": 8, "align": "left", "baseline": "middle", "fontSize": 11},
 "encoding": {"y": {"field": "v", "type": "quantitative", "scale": {"domain": [-300, 3825], "nice": false, "zero": false}, "axis": null},
  "text": {"field": "label"}, "color": {"value": "#ffffff"}}}
]
}
]
}
